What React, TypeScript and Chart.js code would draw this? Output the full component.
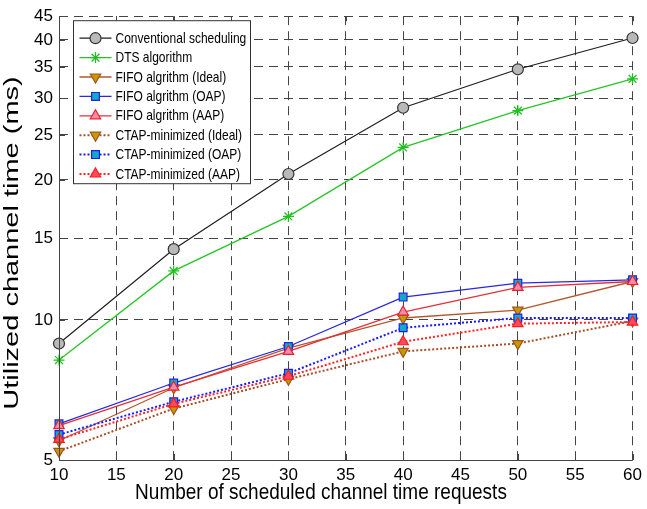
import React, { useEffect, useRef } from "react";
import { Chart, registerables } from "chart.js";
import { drawPoint } from "chart.js/helpers";

Chart.register(...registerables);

const requests = [10, 20, 30, 40, 50, 60];
const conventional = [8.9, 14.2, 20.6, 28.6, 34.6, 40.4];
const dts = [8.2, 12.75, 16.7, 23.5, 28.2, 33.0];
const fifoIdeal = [5.5, 7.15, 8.7, 10.1, 10.5, 12.1];
const fifoOap = [5.98, 7.32, 8.77, 11.2, 12.0, 12.2];
const fifoAap = [5.93, 7.17, 8.56, 10.4, 11.75, 12.1];
const ctapIdeal = [5.22, 6.45, 7.46, 8.56, 8.9, 9.95];
const ctapOap = [5.67, 6.67, 7.68, 9.62, 10.1, 10.1];
const ctapAap = [5.54, 6.6, 7.57, 8.98, 9.82, 9.9];

const yTickValues = [5, 10, 15, 20, 25, 30, 35, 40, 45];
const seriesNames = [
  "Conventional scheduling",
  "DTS algorithm",
  "FIFO algrithm (Ideal)",
  "FIFO algrithm (OAP)",
  "FIFO algrithm (AAP)",
  "CTAP-minimized (Ideal)",
  "CTAP-minimized (OAP)",
  "CTAP-minimized (AAP)",
];
const xTitle = "Number of scheduled channel time requests";
const yTitle = "Utilized channel time (ms)";

const FONT = "'Liberation Sans', Arial, Helvetica, sans-serif";

type Style = {
  line: string;
  fill: string;
  edge: string;
  marker: string;
  rot: number;
  r: number;
  dash: number[];
  w: number;
};

const styles: Style[] = [
  { line: "#1e1e1e", fill: "#b9b9b9", edge: "#333333", marker: "circle", rot: 0, r: 5.5, dash: [], w: 1.2 },
  { line: "#26c526", fill: "#26c526", edge: "#1fc01f", marker: "star", rot: 0, r: 5.5, dash: [], w: 1.3 },
  { line: "#b0582e", fill: "#c49a00", edge: "#a4521e", marker: "triangle", rot: 180, r: 6, dash: [], w: 1.3 },
  { line: "#2828e0", fill: "#14aac4", edge: "#2222e6", marker: "rect", rot: 0, r: 5.5, dash: [], w: 1.3 },
  { line: "#e53038", fill: "#f48aa8", edge: "#e8202e", marker: "triangle", rot: 0, r: 6, dash: [], w: 1.3 },
  { line: "#a4502a", fill: "#c49a00", edge: "#a4521e", marker: "triangle", rot: 180, r: 6, dash: [2, 2], w: 2 },
  { line: "#1a1aff", fill: "#14aac4", edge: "#1a1aff", marker: "rect", rot: 0, r: 5.5, dash: [2, 2], w: 2 },
  { line: "#ff2424", fill: "#ff4a5e", edge: "#ff1a1a", marker: "triangle", rot: 0, r: 6, dash: [2, 2], w: 2 },
];

const allSeries = [conventional, dts, fifoIdeal, fifoOap, fifoAap, ctapIdeal, ctapOap, ctapAap];

const framePlugin = {
  id: "frame",
  afterDraw(chart: any) {
    const { ctx, chartArea } = chart;
    const { left, right, top, bottom } = chartArea;
    const xs = chart.scales.x;
    const ys = chart.scales.y;
    ctx.save();
    // axes
    ctx.strokeStyle = "#444";
    ctx.lineWidth = 1;
    ctx.setLineDash([]);
    ctx.beginPath();
    ctx.moveTo(left + 0.5, top);
    ctx.lineTo(left + 0.5, bottom + 0.5);
    ctx.lineTo(right, bottom + 0.5);
    ctx.stroke();
    // inward ticks
    ctx.beginPath();
    for (let v = 10; v <= 60; v += 5) {
      const px = Math.round(xs.getPixelForValue(v)) + 0.5;
      ctx.moveTo(px, bottom);
      ctx.lineTo(px, bottom - 6);
      ctx.moveTo(px, top);
      ctx.lineTo(px, top + 5);
    }
    for (const v of yTickValues) {
      const py = Math.round(ys.getPixelForValue(v)) + 0.5;
      ctx.moveTo(left, py);
      ctx.lineTo(left + 6, py);
    }
    ctx.stroke();

    // axis titles
    ctx.fillStyle = "#000";
    ctx.textAlign = "center";
    ctx.textBaseline = "middle";
    ctx.save();
    ctx.translate(321, 493);
    ctx.scale(1, 1.15);
    ctx.font = `19px ${FONT}`;
    ctx.fillText(xTitle, 0, 0);
    ctx.restore();
    ctx.save();
    ctx.translate(12, 243);
    ctx.rotate(-Math.PI / 2);
    ctx.scale(1.38, 1);
    ctx.font = `21px ${FONT}`;
    ctx.fillText(yTitle, 0, 0);
    ctx.restore();

    // legend
    const bx = left + 14.5;
    const by = top + 4.5;
    const bw = 177;
    const bh = 163;
    ctx.fillStyle = "#ffffff";
    ctx.fillRect(bx, by, bw, bh);
    ctx.strokeStyle = "#333";
    ctx.lineWidth = 1;
    ctx.strokeRect(bx, by, bw, bh);
    ctx.textBaseline = "middle";
    ctx.textAlign = "left";
    seriesNames.forEach((name, i) => {
      const st = styles[i];
      const y = by + 17.5 + i * 19.4;
      ctx.save();
      ctx.strokeStyle = st.line;
      ctx.lineWidth = st.w;
      ctx.setLineDash(st.dash);
      ctx.beginPath();
      ctx.moveTo(bx + 6, y);
      ctx.lineTo(bx + 38, y);
      ctx.stroke();
      ctx.setLineDash([]);
      ctx.fillStyle = st.fill;
      ctx.strokeStyle = st.edge;
      ctx.lineWidth = 1.2;
      drawPoint(ctx, { pointStyle: st.marker, rotation: st.rot, radius: st.r, borderWidth: 1.2 } as any, bx + 22, y);
      ctx.restore();
      ctx.save();
      ctx.translate(bx + 42, y + 0.5);
      ctx.scale(1, 1.25);
      ctx.font = `12px ${FONT}`;
      ctx.fillStyle = "#000";
      ctx.fillText(name, 0, 0);
      ctx.restore();
    });
    ctx.restore();
  },
};

export default function App() {
  const ref = useRef<HTMLCanvasElement>(null);
  useEffect(() => {
    document.body.style.margin = "0";
    const canvas = ref.current!;
    const datasets = allSeries.map((arr, i) => {
      const st = styles[i];
      return {
        label: seriesNames[i],
        data: requests.map((x, j) => ({ x, y: arr[j] })),
        borderColor: st.line,
        borderWidth: st.w,
        borderDash: st.dash,
        backgroundColor: st.fill,
        pointStyle: st.marker,
        pointRotation: st.rot,
        pointRadius: st.r,
        pointBackgroundColor: st.fill,
        pointBorderColor: st.edge,
        pointBorderWidth: 1.2,
        tension: 0,
        fill: false,
        clip: false as any,
        order: 8 - i,
      };
    });
    const chart = new Chart(canvas, {
      type: "line",
      data: { datasets },
      options: {
        animation: false,
        responsive: false,
        events: [],
        layout: { padding: { left: 0, right: 11, top: 10, bottom: 7 } },
        plugins: { legend: { display: false }, tooltip: { enabled: false } },
        scales: {
          x: {
            type: "linear",
            min: 10,
            max: 60,
            ticks: { stepSize: 5, color: "#000", font: { family: FONT, size: 17 }, padding: 5, maxRotation: 0 },
            grid: { color: "#444", lineWidth: 1, drawTicks: false },
            border: { display: false, dash: [9, 6] },
            title: { display: false },
            afterFit(scale: any) {
              scale.height = 42;
            },
          },
          y: {
            type: "logarithmic",
            min: 5,
            max: 45,
            afterBuildTicks(scale: any) {
              scale.ticks = yTickValues.map((v) => ({ value: v }));
            },
            ticks: {
              color: "#000",
              font: { family: FONT, size: 17 },
              padding: 6,
              autoSkip: false,
              callback: (v: any) => String(v),
            },
            grid: { color: "#444", lineWidth: 1, drawTicks: false },
            border: { display: false, dash: [9, 6] },
            title: { display: false },
            afterFit(scale: any) {
              scale.width = 59;
            },
          },
        },
      },
      plugins: [framePlugin],
    });
    return () => chart.destroy();
  }, []);
  return (
    <div style={{ width: 647, height: 509 }}>
      <canvas ref={ref} width={647} height={509} style={{ display: "block" }} />
    </div>
  );
}
